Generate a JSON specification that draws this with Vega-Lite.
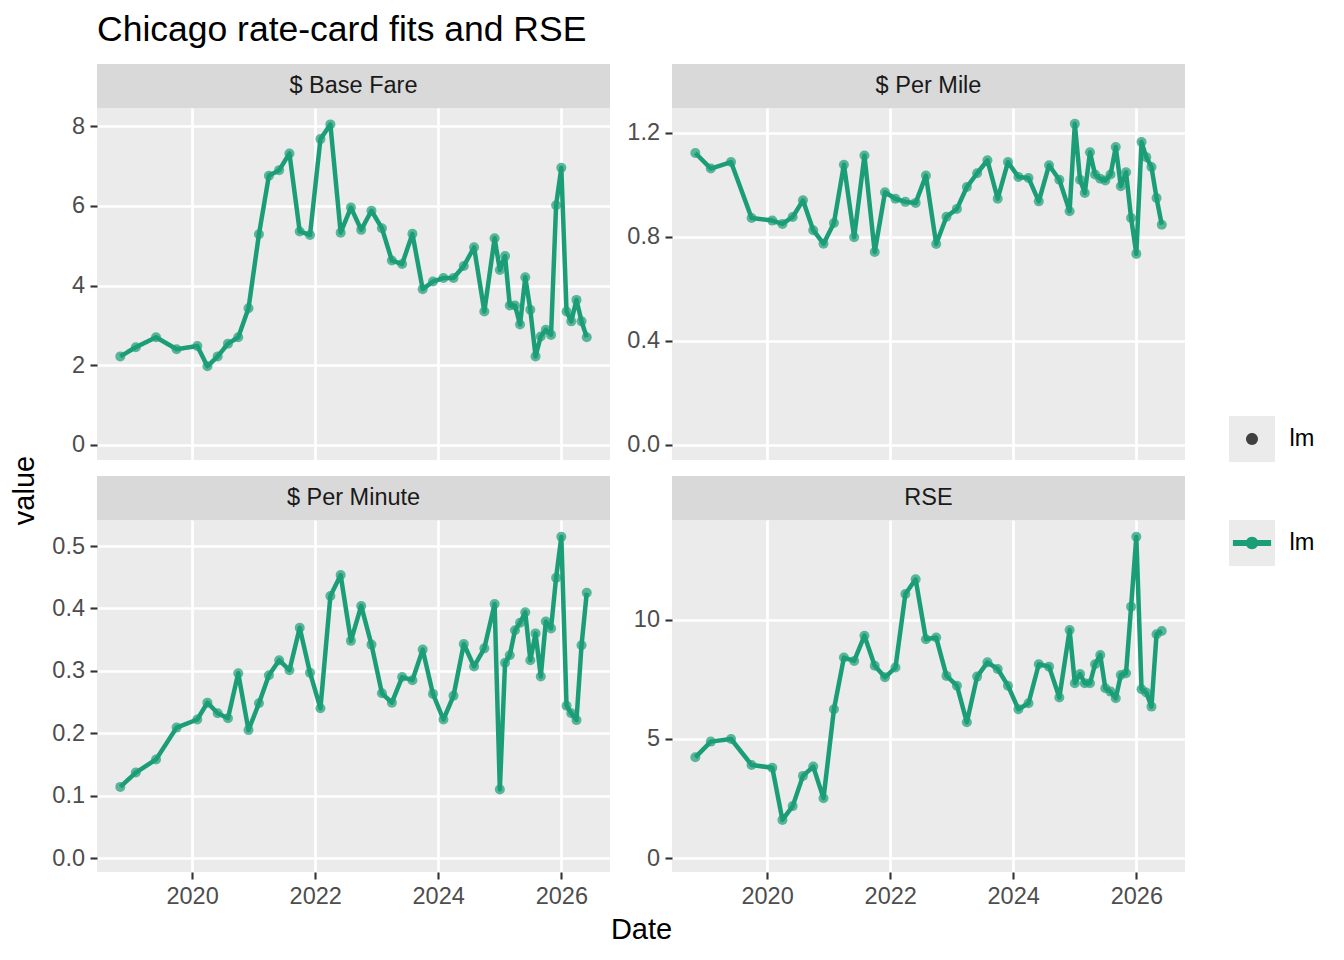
{
  "$schema": "https://vega.github.io/schema/vega-lite/v6.json",
  "autosize": {"type": "none"},
  "padding": {"left": 97, "top": 64, "right": 1247, "bottom": 896},
  "background": "#ffffff",
  "title": {
    "text": "Chicago rate-card fits and RSE",
    "anchor": "start",
    "frame": "group",
    "baseline": "alphabetic",
    "offset": -12,
    "font": "Liberation Sans",
    "fontSize": 35.5,
    "fontWeight": "normal",
    "color": "#000000"
  },
  "config": {
    "font": "Liberation Sans",
    "view": {"stroke": null},
    "axis": {
      "domain": false,
      "grid": true,
      "gridColor": "#ffffff",
      "gridWidth": 2.7,
      "tickColor": "#333333",
      "tickWidth": 2.1,
      "tickSize": 7,
      "labelFont": "Liberation Sans",
      "labelFontSize": 23.5,
      "labelColor": "#4d4d4d",
      "titleFont": "Liberation Sans",
      "titleFontSize": 29,
      "titleFontWeight": "normal",
      "titleColor": "#000000"
    },
    "axisX": {"labelPadding": 5},
    "axisY": {"labelPadding": 5.5},
    "legend": {
      "orient": "none",
      "padding": 0,
      "symbolSize": 2116,
      "labelOffset": 0,
      "labelFontSize": 1,
      "titleOrient": "right",
      "titleAnchor": "middle",
      "titleBaseline": "middle",
      "titlePadding": 14.5,
      "titleFont": "Liberation Sans",
      "titleFontSize": 23.5,
      "titleFontWeight": "normal",
      "titleColor": "#000000"
    }
  },
  "datasets": {
    "fits": [
      {"Date": "2018-11-01", "base_fare": 2.22, "per_mile": 1.123, "per_minute": 0.114, "rse": 4.23, "method": "lm"},
      {"Date": "2019-02-01", "base_fare": 2.45, "per_mile": 1.063, "per_minute": 0.137, "rse": 4.89, "method": "lm"},
      {"Date": "2019-06-01", "base_fare": 2.70, "per_mile": 1.088, "per_minute": 0.158, "rse": 5.00, "method": "lm"},
      {"Date": "2019-10-01", "base_fare": 2.40, "per_mile": 0.873, "per_minute": 0.209, "rse": 3.91, "method": "lm"},
      {"Date": "2020-02-01", "base_fare": 2.48, "per_mile": 0.863, "per_minute": 0.222, "rse": 3.79, "method": "lm"},
      {"Date": "2020-04-01", "base_fare": 1.97, "per_mile": 0.850, "per_minute": 0.249, "rse": 1.60, "method": "lm"},
      {"Date": "2020-06-01", "base_fare": 2.22, "per_mile": 0.877, "per_minute": 0.232, "rse": 2.18, "method": "lm"},
      {"Date": "2020-08-01", "base_fare": 2.54, "per_mile": 0.941, "per_minute": 0.224, "rse": 3.45, "method": "lm"},
      {"Date": "2020-10-01", "base_fare": 2.70, "per_mile": 0.826, "per_minute": 0.296, "rse": 3.84, "method": "lm"},
      {"Date": "2020-12-01", "base_fare": 3.43, "per_mile": 0.774, "per_minute": 0.205, "rse": 2.51, "method": "lm"},
      {"Date": "2021-02-01", "base_fare": 5.29, "per_mile": 0.854, "per_minute": 0.248, "rse": 6.25, "method": "lm"},
      {"Date": "2021-04-01", "base_fare": 6.76, "per_mile": 1.078, "per_minute": 0.293, "rse": 8.42, "method": "lm"},
      {"Date": "2021-06-01", "base_fare": 6.90, "per_mile": 0.799, "per_minute": 0.317, "rse": 8.28, "method": "lm"},
      {"Date": "2021-08-01", "base_fare": 7.32, "per_mile": 1.113, "per_minute": 0.301, "rse": 9.34, "method": "lm"},
      {"Date": "2021-10-01", "base_fare": 5.36, "per_mile": 0.742, "per_minute": 0.369, "rse": 8.08, "method": "lm"},
      {"Date": "2021-12-01", "base_fare": 5.27, "per_mile": 0.972, "per_minute": 0.297, "rse": 7.59, "method": "lm"},
      {"Date": "2022-02-01", "base_fare": 7.68, "per_mile": 0.947, "per_minute": 0.240, "rse": 8.00, "method": "lm"},
      {"Date": "2022-04-01", "base_fare": 8.05, "per_mile": 0.935, "per_minute": 0.420, "rse": 11.09, "method": "lm"},
      {"Date": "2022-06-01", "base_fare": 5.33, "per_mile": 0.931, "per_minute": 0.4535, "rse": 11.71, "method": "lm"},
      {"Date": "2022-08-01", "base_fare": 5.96, "per_mile": 1.036, "per_minute": 0.348, "rse": 9.19, "method": "lm"},
      {"Date": "2022-10-01", "base_fare": 5.40, "per_mile": 0.773, "per_minute": 0.404, "rse": 9.26, "method": "lm"},
      {"Date": "2022-12-01", "base_fare": 5.88, "per_mile": 0.878, "per_minute": 0.342, "rse": 7.65, "method": "lm"},
      {"Date": "2023-02-01", "base_fare": 5.44, "per_mile": 0.908, "per_minute": 0.264, "rse": 7.24, "method": "lm"},
      {"Date": "2023-04-01", "base_fare": 4.63, "per_mile": 0.992, "per_minute": 0.249, "rse": 5.70, "method": "lm"},
      {"Date": "2023-06-01", "base_fare": 4.54, "per_mile": 1.045, "per_minute": 0.290, "rse": 7.62, "method": "lm"},
      {"Date": "2023-08-01", "base_fare": 5.30, "per_mile": 1.095, "per_minute": 0.285, "rse": 8.22, "method": "lm"},
      {"Date": "2023-10-01", "base_fare": 3.91, "per_mile": 0.947, "per_minute": 0.334, "rse": 7.94, "method": "lm"},
      {"Date": "2023-12-01", "base_fare": 4.10, "per_mile": 1.088, "per_minute": 0.263, "rse": 7.24, "method": "lm"},
      {"Date": "2024-02-01", "base_fare": 4.19, "per_mile": 1.031, "per_minute": 0.222, "rse": 6.25, "method": "lm"},
      {"Date": "2024-04-01", "base_fare": 4.19, "per_mile": 1.027, "per_minute": 0.260, "rse": 6.50, "method": "lm"},
      {"Date": "2024-06-01", "base_fare": 4.49, "per_mile": 0.937, "per_minute": 0.343, "rse": 8.14, "method": "lm"},
      {"Date": "2024-08-01", "base_fare": 4.96, "per_mile": 1.076, "per_minute": 0.307, "rse": 8.04, "method": "lm"},
      {"Date": "2024-10-01", "base_fare": 3.35, "per_mile": 1.020, "per_minute": 0.336, "rse": 6.74, "method": "lm"},
      {"Date": "2024-12-01", "base_fare": 5.19, "per_mile": 0.899, "per_minute": 0.407, "rse": 9.58, "method": "lm"},
      {"Date": "2025-01-01", "base_fare": 4.39, "per_mile": 1.235, "per_minute": 0.110, "rse": 7.34, "method": "lm"},
      {"Date": "2025-02-01", "base_fare": 4.74, "per_mile": 1.020, "per_minute": 0.313, "rse": 7.73, "method": "lm"},
      {"Date": "2025-03-01", "base_fare": 3.50, "per_mile": 0.969, "per_minute": 0.325, "rse": 7.34, "method": "lm"},
      {"Date": "2025-04-01", "base_fare": 3.50, "per_mile": 1.126, "per_minute": 0.365, "rse": 7.34, "method": "lm"},
      {"Date": "2025-05-01", "base_fare": 3.02, "per_mile": 1.040, "per_minute": 0.377, "rse": 8.14, "method": "lm"},
      {"Date": "2025-06-01", "base_fare": 4.21, "per_mile": 1.024, "per_minute": 0.394, "rse": 8.53, "method": "lm"},
      {"Date": "2025-07-01", "base_fare": 3.39, "per_mile": 1.017, "per_minute": 0.317, "rse": 7.13, "method": "lm"},
      {"Date": "2025-08-01", "base_fare": 2.22, "per_mile": 1.040, "per_minute": 0.360, "rse": 6.99, "method": "lm"},
      {"Date": "2025-09-01", "base_fare": 2.72, "per_mile": 1.146, "per_minute": 0.291, "rse": 6.71, "method": "lm"},
      {"Date": "2025-10-01", "base_fare": 2.89, "per_mile": 0.995, "per_minute": 0.379, "rse": 7.69, "method": "lm"},
      {"Date": "2025-11-01", "base_fare": 2.76, "per_mile": 1.049, "per_minute": 0.368, "rse": 7.76, "method": "lm"},
      {"Date": "2025-12-01", "base_fare": 6.02, "per_mile": 0.873, "per_minute": 0.449, "rse": 10.56, "method": "lm"},
      {"Date": "2026-01-01", "base_fare": 6.96, "per_mile": 0.735, "per_minute": 0.515, "rse": 13.50, "method": "lm"},
      {"Date": "2026-02-01", "base_fare": 3.35, "per_mile": 1.165, "per_minute": 0.244, "rse": 7.09, "method": "lm"},
      {"Date": "2026-03-01", "base_fare": 3.10, "per_mile": 1.107, "per_minute": 0.232, "rse": 6.95, "method": "lm"},
      {"Date": "2026-04-01", "base_fare": 3.64, "per_mile": 1.069, "per_minute": 0.221, "rse": 6.36, "method": "lm"},
      {"Date": "2026-05-01", "base_fare": 3.10, "per_mile": 0.950, "per_minute": 0.341, "rse": 9.40, "method": "lm"},
      {"Date": "2026-06-01", "base_fare": 2.70, "per_mile": 0.847, "per_minute": 0.425, "rse": 9.54, "method": "lm"}
    ]
  },
  "columns": 2,
  "align": "each",
  "spacing": {"row": -5, "column": 0},
  "concat": [
    {
      "vconcat": [
        {
          "width": 513, "height": 44,
          "data": {"values": [{"panel": "$ Base Fare"}]},
          "view": {"fill": "#d9d9d9", "stroke": null},
          "mark": {"type": "text", "fontSize": 23.5, "color": "#1a1a1a", "font": "Liberation Sans"},
          "encoding": {"text": {"field": "panel", "type": "nominal"}}
        },
        {
          "width": 513, "height": 352,
          "data": {"name": "fits"},
          "view": {"fill": "#ebebeb", "stroke": null},
          "layer": [
            {
              "mark": {"type": "line", "strokeWidth": 4.5, "strokeJoin": "round"},
              "encoding": {
                "x": {"field": "Date", "type": "temporal",
                  "scale": {"type": "utc", "domain": [{"year": 2018, "month": 6, "date": 15, "hours": 13, "utc": true}, {"year": 2026, "month": 10, "date": 17, "utc": true}]},
                  "axis": {"values": [{"year": 2020, "month": 1, "date": 1, "utc": true}, {"year": 2022, "month": 1, "date": 1, "utc": true}, {"year": 2024, "month": 1, "date": 1, "utc": true}, {"year": 2026, "month": 1, "date": 1, "utc": true}], "labels": false, "ticks": false, "title": null}},
                "y": {"field": "base_fare", "type": "quantitative",
                  "scale": {"domain": [-0.384, 8.462], "nice": false, "zero": false},
                  "axis": {"values": [0, 2, 4, 6, 8], "format": "d", "title": null}},
                "color": {"field": "method", "type": "nominal", "scale": {"range": ["#1b9e77"]},
                  "legend": {
                    "legendX": 1132, "legendY": 456, "title": "lm", "labelExpr": "''",
                    "encode": {
                      "symbols": {"update": {
                        "fill": {"value": "#1b9e77"}, "stroke": {"value": null}, "strokeWidth": {"value": 0}, "opacity": {"value": 1},
                        "size": {"value": 2116},
                        "shape": {"value": "M-1,-1M1,1M-0.83,-0.13L0.83,-0.13L0.83,0.13L-0.83,0.13Z M0.27,0A0.27,0.27,0,1,1,-0.27,0A0.27,0.27,0,1,1,0.27,0Z"}}},
                      "entries": {"update": {"fill": {"value": "#ebebeb"}}}
                    }
                  }},
                "strokeDash": {"field": "method", "type": "nominal", "sort": "descending", "scale": {"range": [[1, 0]]},
                  "legend": {
                    "legendX": 1132, "legendY": 352, "title": "lm", "labelExpr": "''",
                    "encode": {
                      "symbols": {"update": {
                        "fill": {"value": "#404040"}, "stroke": {"value": null}, "strokeWidth": {"value": 0}, "opacity": {"value": 1},
                        "size": {"value": 2116},
                        "shape": {"value": "M-1,-1M1,1M0.26,0A0.26,0.26,0,1,1,-0.26,0A0.26,0.26,0,1,1,0.26,0Z"}}},
                      "entries": {"update": {"fill": {"value": "#ebebeb"}}}
                    }
                  }}
              }
            },
            {
              "mark": {"type": "point", "filled": true, "size": 100, "opacity": 0.7, "color": "#1b9e77"},
              "encoding": {
                "x": {"field": "Date", "type": "temporal",
                  "scale": {"type": "utc", "domain": [{"year": 2018, "month": 6, "date": 15, "hours": 13, "utc": true}, {"year": 2026, "month": 10, "date": 17, "utc": true}]},
                  "axis": {"values": [{"year": 2019, "month": 1, "date": 1, "utc": true}, {"year": 2021, "month": 1, "date": 1, "utc": true}, {"year": 2023, "month": 1, "date": 1, "utc": true}, {"year": 2025, "month": 1, "date": 1, "utc": true}], "labels": false, "ticks": false, "title": null, "gridWidth": 1.35, "orient": "bottom"}},
                "y": {"field": "base_fare", "type": "quantitative",
                  "scale": {"domain": [-0.384, 8.462], "nice": false, "zero": false},
                  "axis": {"values": [1, 3, 5, 7], "labels": false, "ticks": false, "title": null, "gridWidth": 1.35, "orient": "left"}}
              }
            }
          ],
          "resolve": {"axis": {"x": "independent", "y": "independent"}}
        }
      ],
      "spacing": 0,
      "bounds": "flush"
    },
    {
      "vconcat": [
        {
          "width": 513, "height": 44,
          "data": {"values": [{"panel": "$ Per Mile"}]},
          "view": {"fill": "#d9d9d9", "stroke": null},
          "mark": {"type": "text", "fontSize": 23.5, "color": "#1a1a1a", "font": "Liberation Sans"},
          "encoding": {"text": {"field": "panel", "type": "nominal"}}
        },
        {
          "width": 513, "height": 352,
          "data": {"name": "fits"},
          "view": {"fill": "#ebebeb", "stroke": null},
          "layer": [
            {
              "mark": {"type": "line", "strokeWidth": 4.5, "strokeJoin": "round", "color": "#1b9e77"},
              "encoding": {
                "x": {"field": "Date", "type": "temporal",
                  "scale": {"type": "utc", "domain": [{"year": 2018, "month": 6, "date": 15, "hours": 13, "utc": true}, {"year": 2026, "month": 10, "date": 17, "utc": true}]},
                  "axis": {"values": [{"year": 2020, "month": 1, "date": 1, "utc": true}, {"year": 2022, "month": 1, "date": 1, "utc": true}, {"year": 2024, "month": 1, "date": 1, "utc": true}, {"year": 2026, "month": 1, "date": 1, "utc": true}], "labels": false, "ticks": false, "title": null}},
                "y": {"field": "per_mile", "type": "quantitative",
                  "scale": {"domain": [-0.0577, 1.296], "nice": false, "zero": false},
                  "axis": {"values": [0, 0.4, 0.8, 1.2], "format": ".1f", "title": null}}
              }
            },
            {
              "mark": {"type": "point", "filled": true, "size": 100, "opacity": 0.7, "color": "#1b9e77"},
              "encoding": {
                "x": {"field": "Date", "type": "temporal",
                  "scale": {"type": "utc", "domain": [{"year": 2018, "month": 6, "date": 15, "hours": 13, "utc": true}, {"year": 2026, "month": 10, "date": 17, "utc": true}]},
                  "axis": {"values": [{"year": 2019, "month": 1, "date": 1, "utc": true}, {"year": 2021, "month": 1, "date": 1, "utc": true}, {"year": 2023, "month": 1, "date": 1, "utc": true}, {"year": 2025, "month": 1, "date": 1, "utc": true}], "labels": false, "ticks": false, "title": null, "gridWidth": 1.35, "orient": "bottom"}},
                "y": {"field": "per_mile", "type": "quantitative",
                  "scale": {"domain": [-0.0577, 1.296], "nice": false, "zero": false},
                  "axis": {"values": [0.2, 0.6, 1.0], "labels": false, "ticks": false, "title": null, "gridWidth": 1.35, "orient": "left"}}
              }
            }
          ],
          "resolve": {"axis": {"x": "independent", "y": "independent"}}
        }
      ],
      "spacing": 0,
      "bounds": "flush"
    },
    {
      "vconcat": [
        {
          "width": 513, "height": 44,
          "data": {"values": [{"panel": "$ Per Minute"}]},
          "view": {"fill": "#d9d9d9", "stroke": null},
          "mark": {"type": "text", "fontSize": 23.5, "color": "#1a1a1a", "font": "Liberation Sans"},
          "encoding": {"text": {"field": "panel", "type": "nominal"}}
        },
        {
          "width": 513, "height": 352,
          "data": {"name": "fits"},
          "view": {"fill": "#ebebeb", "stroke": null},
          "layer": [
            {
              "mark": {"type": "line", "strokeWidth": 4.5, "strokeJoin": "round", "color": "#1b9e77"},
              "encoding": {
                "x": {"field": "Date", "type": "temporal",
                  "scale": {"type": "utc", "domain": [{"year": 2018, "month": 6, "date": 15, "hours": 13, "utc": true}, {"year": 2026, "month": 10, "date": 17, "utc": true}]},
                  "axis": {"values": [{"year": 2020, "month": 1, "date": 1, "utc": true}, {"year": 2022, "month": 1, "date": 1, "utc": true}, {"year": 2024, "month": 1, "date": 1, "utc": true}, {"year": 2026, "month": 1, "date": 1, "utc": true}], "format": "%Y", "title": null}},
                "y": {"field": "per_minute", "type": "quantitative",
                  "scale": {"domain": [-0.0224, 0.5417], "nice": false, "zero": false},
                  "axis": {"values": [0, 0.1, 0.2, 0.3, 0.4, 0.5], "format": ".1f", "title": "value", "titleX": -64, "titleY": -30, "titleBaseline": "alphabetic", "titleAlign": "center", "titleAngle": -90}}
              }
            },
            {
              "mark": {"type": "point", "filled": true, "size": 100, "opacity": 0.7, "color": "#1b9e77"},
              "encoding": {
                "x": {"field": "Date", "type": "temporal",
                  "scale": {"type": "utc", "domain": [{"year": 2018, "month": 6, "date": 15, "hours": 13, "utc": true}, {"year": 2026, "month": 10, "date": 17, "utc": true}]},
                  "axis": {"values": [{"year": 2019, "month": 1, "date": 1, "utc": true}, {"year": 2021, "month": 1, "date": 1, "utc": true}, {"year": 2023, "month": 1, "date": 1, "utc": true}, {"year": 2025, "month": 1, "date": 1, "utc": true}], "labels": false, "ticks": false, "title": null, "gridWidth": 1.35, "orient": "bottom"}},
                "y": {"field": "per_minute", "type": "quantitative",
                  "scale": {"domain": [-0.0224, 0.5417], "nice": false, "zero": false},
                  "axis": {"values": [0.05, 0.15, 0.25, 0.35, 0.45], "labels": false, "ticks": false, "title": null, "gridWidth": 1.35, "orient": "left"}}
              }
            }
          ],
          "resolve": {"axis": {"x": "independent", "y": "independent"}}
        }
      ],
      "spacing": 0,
      "bounds": "flush"
    },
    {
      "vconcat": [
        {
          "width": 513, "height": 44,
          "data": {"values": [{"panel": "RSE"}]},
          "view": {"fill": "#d9d9d9", "stroke": null},
          "mark": {"type": "text", "fontSize": 23.5, "color": "#1a1a1a", "font": "Liberation Sans"},
          "encoding": {"text": {"field": "panel", "type": "nominal"}}
        },
        {
          "width": 513, "height": 352,
          "data": {"name": "fits"},
          "view": {"fill": "#ebebeb", "stroke": null},
          "layer": [
            {
              "mark": {"type": "line", "strokeWidth": 4.5, "strokeJoin": "round", "color": "#1b9e77"},
              "encoding": {
                "x": {"field": "Date", "type": "temporal",
                  "scale": {"type": "utc", "domain": [{"year": 2018, "month": 6, "date": 15, "hours": 13, "utc": true}, {"year": 2026, "month": 10, "date": 17, "utc": true}]},
                  "axis": {"values": [{"year": 2020, "month": 1, "date": 1, "utc": true}, {"year": 2022, "month": 1, "date": 1, "utc": true}, {"year": 2024, "month": 1, "date": 1, "utc": true}, {"year": 2026, "month": 1, "date": 1, "utc": true}], "format": "%Y", "title": "Date", "titleX": -31, "titleY": 66, "titleBaseline": "alphabetic", "titleAlign": "center"}},
                "y": {"field": "rse", "type": "quantitative",
                  "scale": {"domain": [-0.588, 14.2], "nice": false, "zero": false},
                  "axis": {"values": [0, 5, 10], "format": "d", "title": null}}
              }
            },
            {
              "mark": {"type": "point", "filled": true, "size": 100, "opacity": 0.7, "color": "#1b9e77"},
              "encoding": {
                "x": {"field": "Date", "type": "temporal",
                  "scale": {"type": "utc", "domain": [{"year": 2018, "month": 6, "date": 15, "hours": 13, "utc": true}, {"year": 2026, "month": 10, "date": 17, "utc": true}]},
                  "axis": {"values": [{"year": 2019, "month": 1, "date": 1, "utc": true}, {"year": 2021, "month": 1, "date": 1, "utc": true}, {"year": 2023, "month": 1, "date": 1, "utc": true}, {"year": 2025, "month": 1, "date": 1, "utc": true}], "labels": false, "ticks": false, "title": null, "gridWidth": 1.35, "orient": "bottom"}},
                "y": {"field": "rse", "type": "quantitative",
                  "scale": {"domain": [-0.588, 14.2], "nice": false, "zero": false},
                  "axis": {"values": [2.5, 7.5, 12.5], "labels": false, "ticks": false, "title": null, "gridWidth": 1.35, "orient": "left"}}
              }
            }
          ],
          "resolve": {"axis": {"x": "independent", "y": "independent"}}
        }
      ],
      "spacing": 0,
      "bounds": "flush"
    }
  ]
}
